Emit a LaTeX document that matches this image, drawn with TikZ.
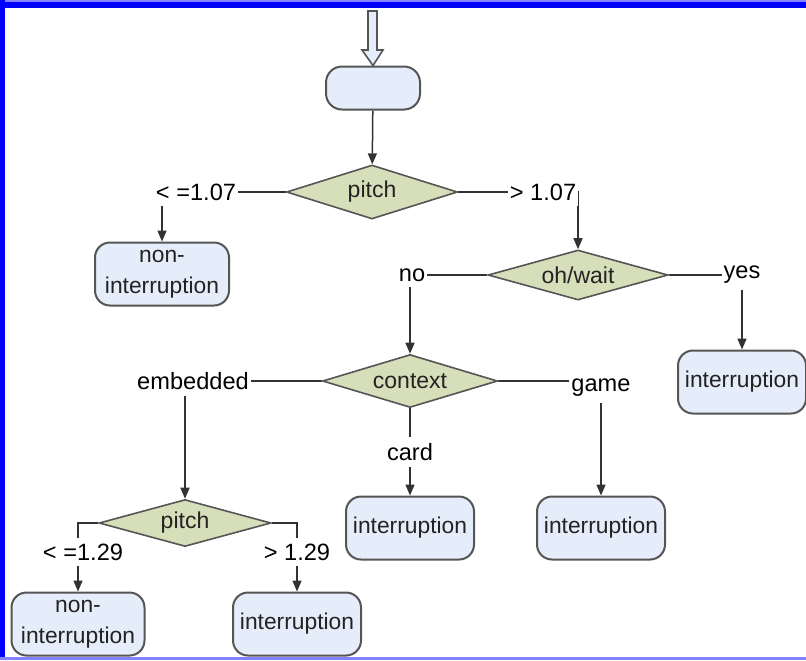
\documentclass[tikz,border=0pt]{standalone}
\usepackage{fontspec}
\setmainfont{Liberation Sans}
\usepackage{tikz}
\definecolor{white}{rgb}{1.0, 1.0, 1.0}
\definecolor{boxblue}{RGB}{228,237,249}
\definecolor{testgreen}{RGB}{214,222,186}
\definecolor{rimgray}{RGB}{85,85,85}
\definecolor{linegray}{RGB}{50,50,50}
\definecolor{textgray}{RGB}{35,35,35}
\definecolor{frameblue}{RGB}{0,0,255}
\definecolor{framelight}{RGB}{130,130,255}
\usetikzlibrary{shapes.geometric}
\usetikzlibrary{arrows.meta}
\pgfdeclarelayer{edgelayer}
\pgfdeclarelayer{nodelayer}
\pgfsetlayers{edgelayer,main,nodelayer}
\tikzstyle{leaf}=[rectangle,rounded corners=7.5pt,fill=boxblue,draw=rimgray,text=textgray,line width=1pt,minimum width=64pt,minimum height=31.5pt,inner ysep=3pt,align=center,font=\fontsize{11.4}{15.5}\selectfont]
\tikzstyle{test}=[diamond,aspect=3,inner sep=0pt,fill=testgreen,draw=rimgray,text=textgray,line width=0.8pt,font=\fontsize{11.5}{13}\selectfont]
\tikzstyle{answer}=[fill=white,inner xsep=1pt,inner ysep=3pt,font=\fontsize{11.8}{13}\selectfont]
\tikzstyle{edge}=[draw=linegray,line width=0.75pt]
\tikzstyle{arrow}=[edge,-{Triangle[length=5.5pt,width=4.5pt]}]

\begin{document}
\begin{tikzpicture}[x=0.5pt,y=-0.5pt]
        \useasboundingbox (0,0) rectangle (806,660);

        \begin{pgfonlayer}{nodelayer}
            \node [style = leaf, minimum width=47pt, minimum height=21.5pt, rounded corners=8pt] (start) at (373,88) {};

            \node [style = test, minimum width=85.5pt, minimum height=27pt] (pitcha) at (372,192) {pitch};
            \node [style = leaf, minimum width=67pt] (nona) at (162,274) {non-\\interruption};

            \node [style = test, minimum width=90pt, minimum height=25pt] (ohwait) at (578,275) {oh/wait};
            \node [style = leaf] (intyes) at (742,382) {interruption};

            \node [style = test, minimum width=87.5pt, minimum height=26.5pt] (context) at (410,381) {context};
            \node [style = leaf] (intcard) at (410,528) {interruption};
            \node [style = leaf] (intgame) at (601,528) {interruption};

            \node [style = test, minimum width=86pt, minimum height=23.5pt] (pitchb) at (185,523) {pitch};
            \node [style = leaf, minimum width=66.5pt] (nonb) at (78,624) {non-\\interruption};
            \node [style = leaf] (intb) at (297,624) {interruption};

            % branch labels
            \node [style = answer] (le107) at (196,192) {< =1.07};
            \node [style = answer] (gt107) at (543,192) {> 1.07};
            \node [style = answer] (no) at (412,275) {no};
            \node [style = answer] (yes) at (742,275) {yes};
            \node [style = answer] (embedded) at (193,381) {embedded};
            \node [style = answer] (game) at (601,388) {game};
            \node [style = answer] (card) at (410,452) {card};
            \node [style = answer] (le129) at (83,552) {< =1.29};
            \node [style = answer] (gt129) at (297,552) {> 1.29};
        \end{pgfonlayer}

        \begin{pgfonlayer}{edgelayer}
            % frame
            \fill [frameblue] (0,2) rectangle (806,8);
            \fill [framelight] (0,0) rectangle (806,2);
            \fill [frameblue] (0,0) rectangle (5,660);
            \fill [framelight] (0,657) rectangle (806,660);

            % entry arrow
            \filldraw [fill=boxblue, draw=rimgray, line width=0.8pt] (368,11) -- (377,11) -- (377,50) -- (383,50) -- (start.north) -- (362,50) -- (368,50) -- cycle;

            \draw [style = arrow] (start) to (pitcha);
            \draw [style = arrow] (pitcha.west) -| (nona.north);
            \draw [style = arrow] (pitcha.east) -| (ohwait.north);
            \draw [style = arrow] (ohwait.west) -| (context.north);
            \draw [style = arrow] (ohwait.east) -| (intyes.north);
            \draw [style = arrow] (context.west) -| (pitchb.north);
            \draw [style = arrow] (context.east) -| (intgame.north);
            \draw [style = arrow] (context.south) -- (intcard.north);
            \draw [style = arrow] (pitchb.west) -| (nonb.north);
            \draw [style = arrow] (pitchb.east) -| (intb.north);
        \end{pgfonlayer}
    \end{tikzpicture}
\end{document}
